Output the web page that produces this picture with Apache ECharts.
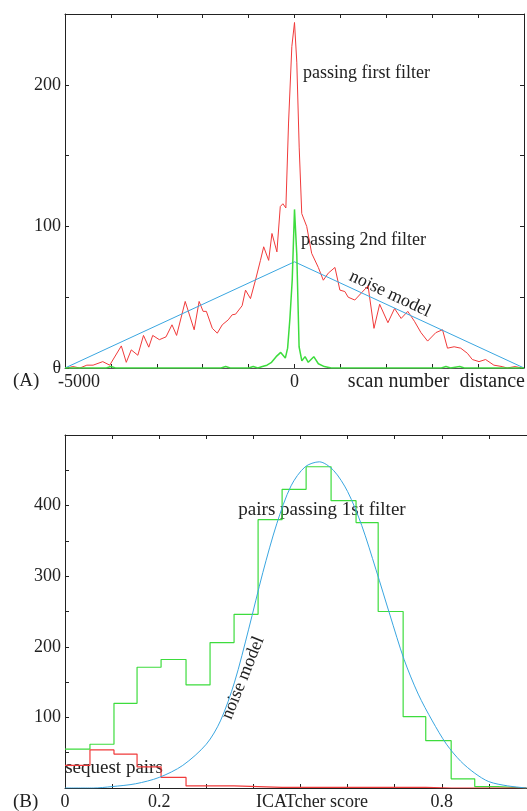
<!DOCTYPE html>
<html>
<head>
<meta charset="utf-8">
<script src="https://cdn.jsdelivr.net/npm/echarts@6/dist/echarts.min.js"></script>
<style>
  html, body { margin: 0; padding: 0; background: #fff; }
  #chart { width: 527px; height: 811px; }
</style>
</head>
<body>
<div id="chart"></div>
<script>
// (A) scan number distance
var firstFilterDist = [-4963, -4827, -4675, -4524, -4388, -4177, -4026, -3773, -3665, -3556, -3413, -3290, -3175, -3089,
  -2944, -2799, -2669, -2569, -2381, -2186, -2078, -1991, -1920, -1790, -1682, -1574, -1444, -1357, -1284, -1141,
  -1067, -959, -851, -742, -671, -563, -491, -383, -310, -253, -188, -130, -58, 0, 50, 102, 158, 266, 374, 519,
  628, 736, 881, 989, 1097, 1169, 1314, 1457, 1602, 1732, 1855, 2035, 2180, 2323, 2468, 2613, 2755, 2900, 3080,
  3225, 3333, 3478, 3621, 3766, 3874, 4020, 4163, 4344, 4524, 4632, 4805, 4957];
var firstFilterCount = [0, 1, 0, 2, 2, 4.5, 2, 15.6, 4, 12.8, 9, 23, 14.7, 23,
  20, 22, 30.5, 23, 47, 27, 47, 40, 40, 28, 24.6, 30.5, 34, 37.6, 38, 44,
  55, 49, 62, 76, 85.6, 76, 95, 82, 114, 116, 113, 173, 227, 244, 216, 156, 109, 100, 81, 71,
  62, 67, 71, 55, 54, 50, 48, 53, 58, 28, 45, 32, 42, 35, 40, 33, 25, 19, 25,
  27, 14, 15, 14, 10.4, 6, 4.5, 6, 2, 1, 0, 1, 0];

var secondFilterDist = [-5000, -4100, -4000, -3900, -1600, -1500, -1400, -1000, -900, -800, -700, -600, -500, -400,
  -300, -200, -150, -100, -50, 0, 50, 100, 160, 230, 300, 420, 520, 650, 800, 3200, 3300, 3400, 3600, 3700, 5000];
var secondFilterCount = [0, 0, 1, 0, 0, 1, 0, 0, 1, 0, 1, 2, 4, 8,
  11, 7, 14, 35, 62, 112, 80, 15, 5, 8, 4, 8, 3, 1, 0, 0, 1, 0, 1, 0, 0];

var noiseDist = [-5000, 0, 5000];
var noiseCount = [0, 75, 0];

// (B) ICATcher score
var scoreBinEdges = [0, 0.053, 0.104, 0.153, 0.204, 0.257, 0.308, 0.359, 0.41, 0.461, 0.512, 0.565, 0.618,
  0.665, 0.718, 0.766, 0.82, 0.87, 0.919, 0.98];
var pairsFirstFilter = [55, 62, 120, 171, 182, 146, 206, 246, 380, 423, 455, 407, 376, 250, 101, 67, 13, 2, 0];
var sequestPairs = [32, 54, 48, 30, 15, 3, 3, 2, 1, 1, 1, 1, 1, 1, 1, 0, 0, 0, 0];

var noiseScore = [0, 0.06, 0.1, 0.15, 0.2, 0.25, 0.3, 0.33, 0.36, 0.39, 0.42, 0.45, 0.48, 0.51, 0.54,
  0.57, 0.6, 0.63, 0.66, 0.69, 0.72, 0.75, 0.78, 0.81, 0.84, 0.87, 0.9, 0.94, 0.98];
var noiseScoreCount = [0, 0, 2, 6, 15, 32, 62, 95, 150, 225, 305, 375, 428, 455, 462,
  450, 420, 372, 310, 245, 182, 133, 95, 62, 38, 21, 9, 3, 0];

var xTopLabels = { '-5000': '-5000', '0': '0' };
var yTopLabels = { '0': 'θ', '100': '100', '200': '200' };
var xBottomLabels = { '0': '0', '0.2': '0.2', '0.8': '0.8' };
var yBottomLabels = ['100', '200', '300', '400'];

var RED = '#f03a3a', GREEN = '#3ddc3d', BLUE = '#3aa6e0', INK = '#222';
var FONT = 'Liberation Serif';

function pairs(xs, ys) {
  return xs.map(function (x, i) { return [x, ys[i]]; });
}
function steps(edges, counts) {
  var d = counts.map(function (c, i) { return [edges[i], c]; });
  d.push([edges[edges.length - 1], counts[counts.length - 1]]);
  return d;
}

var chart = echarts.init(document.getElementById('chart'));

function axisBase(extra) {
  var a = {
    axisLine: { show: true, onZero: false, lineStyle: { color: INK, width: 1 } },
    axisTick: { show: true, inside: true, length: 4, lineStyle: { color: INK } },
    axisLabel: { show: false },
    splitLine: { show: false }
  };
  for (var k in extra) a[k] = extra[k];
  return a;
}

var option = {
  animation: false,
  backgroundColor: '#fff',
  grid: [
    { left: 65, top: 14, right: 2, bottom: 443 },
    { left: 65, top: 435, right: 0, bottom: 22 }
  ],
  xAxis: [
    axisBase({ type: 'value', gridIndex: 0, min: -5000, max: 5000, interval: 1000, position: 'bottom',
      axisLine: { show: true, onZero: false, lineStyle: { color: '#555', width: 1 } },
      axisLabel: { show: true, margin: 5, fontFamily: FONT, fontSize: 18, color: INK,
        formatter: function (v) {
          if (v === -5000) return '{s|-5000}';
          return xTopLabels[String(v)] || '';
        },
        rich: { s: { fontFamily: FONT, fontSize: 18, color: INK, padding: [0, 0, 0, 28] } } } }),
    axisBase({ type: 'value', gridIndex: 0, min: -5000, max: 5000, interval: 1000, position: 'top' }),
    axisBase({ type: 'value', gridIndex: 1, min: 0, max: 0.981, interval: 0.1, position: 'bottom',
      axisLabel: { show: true, margin: 5, fontFamily: FONT, fontSize: 18, color: INK, showMaxLabel: false,
        formatter: function (v) { return xBottomLabels[String(Math.round(v * 10) / 10)] || ''; } } }),
    axisBase({ type: 'value', gridIndex: 1, min: 0, max: 0.981, interval: 0.1, position: 'top' })
  ],
  yAxis: [
    axisBase({ type: 'value', gridIndex: 0, min: 0, max: 250, interval: 50, position: 'left',
      axisLabel: { show: true, margin: 4, fontFamily: FONT, fontSize: 18, color: INK,
        formatter: function (v) { return yTopLabels[String(v)] || ''; } } }),
    axisBase({ type: 'value', gridIndex: 0, min: 0, max: 250, interval: 50, position: 'right' }),
    axisBase({ type: 'value', gridIndex: 1, min: 0, max: 500, interval: 50, position: 'left',
      axisLabel: { show: true, margin: 4, fontFamily: FONT, fontSize: 18, color: INK,
        formatter: function (v) { return yBottomLabels.indexOf(String(v)) >= 0 ? String(v) : ''; } } })
  ],
  series: [
    { type: 'line', xAxisIndex: 0, yAxisIndex: 0, data: pairs(firstFilterDist, firstFilterCount),
      symbol: 'none', lineStyle: { color: RED, width: 1 } },
    { type: 'line', xAxisIndex: 0, yAxisIndex: 0, data: pairs(noiseDist, noiseCount),
      symbol: 'none', lineStyle: { color: BLUE, width: 1 } },
    { type: 'line', xAxisIndex: 0, yAxisIndex: 0, data: pairs(secondFilterDist, secondFilterCount),
      symbol: 'none', lineStyle: { color: GREEN, width: 1.5 } },
    { type: 'line', xAxisIndex: 2, yAxisIndex: 2, data: steps(scoreBinEdges, pairsFirstFilter), step: 'end',
      symbol: 'none', lineStyle: { color: GREEN, width: 1.2 } },
    { type: 'line', xAxisIndex: 2, yAxisIndex: 2, data: steps(scoreBinEdges, sequestPairs), step: 'end',
      symbol: 'none', lineStyle: { color: RED, width: 1.2 } },
    { type: 'line', xAxisIndex: 2, yAxisIndex: 2, data: pairs(noiseScore, noiseScoreCount), smooth: 0.3,
      symbol: 'none', lineStyle: { color: BLUE, width: 1 } }
  ],
  graphic: [
    { type: 'text', left: 303, top: 64, style: { text: 'passing first filter', font: '18px "Liberation Serif"', fill: INK } },
    { type: 'text', left: 301, top: 231, style: { text: 'passing 2nd filter', font: '18px "Liberation Serif"', fill: INK } },
    { type: 'text', x: 390, y: 294, rotation: -25 * Math.PI / 180,
      style: { text: 'noise model', font: '18px "Liberation Serif"', fill: INK, align: 'center', verticalAlign: 'middle' } },
    { type: 'text', x: 525, y: 382,
      style: { text: 'scan number  distance', font: '20px "Liberation Serif"', fill: INK, align: 'right', verticalAlign: 'middle' } },
    { type: 'text', x: 13, y: 381,
      style: { text: '(A)', font: '19px "Liberation Serif"', fill: INK, align: 'left', verticalAlign: 'middle' } },
    { type: 'text', x: 322, y: 510,
      style: { text: 'pairs passing 1st filter', font: '19px "Liberation Serif"', fill: INK, align: 'center', verticalAlign: 'middle' } },
    { type: 'text', x: 243, y: 678, rotation: 68 * Math.PI / 180,
      style: { text: 'noise model', font: '18px "Liberation Serif"', fill: INK, align: 'center', verticalAlign: 'middle' } },
    { type: 'text', x: 114, y: 768,
      style: { text: 'sequest pairs', font: '19px "Liberation Serif"', fill: INK, align: 'center', verticalAlign: 'middle' } },
    { type: 'text', x: 312, y: 802,
      style: { text: 'ICATcher score', font: '18px "Liberation Serif"', fill: INK, align: 'center', verticalAlign: 'middle' } },
    { type: 'text', x: 13, y: 802,
      style: { text: '(B)', font: '19px "Liberation Serif"', fill: INK, align: 'left', verticalAlign: 'middle' } }
  ]
};

chart.setOption(option);
</script>
</body>
</html>
